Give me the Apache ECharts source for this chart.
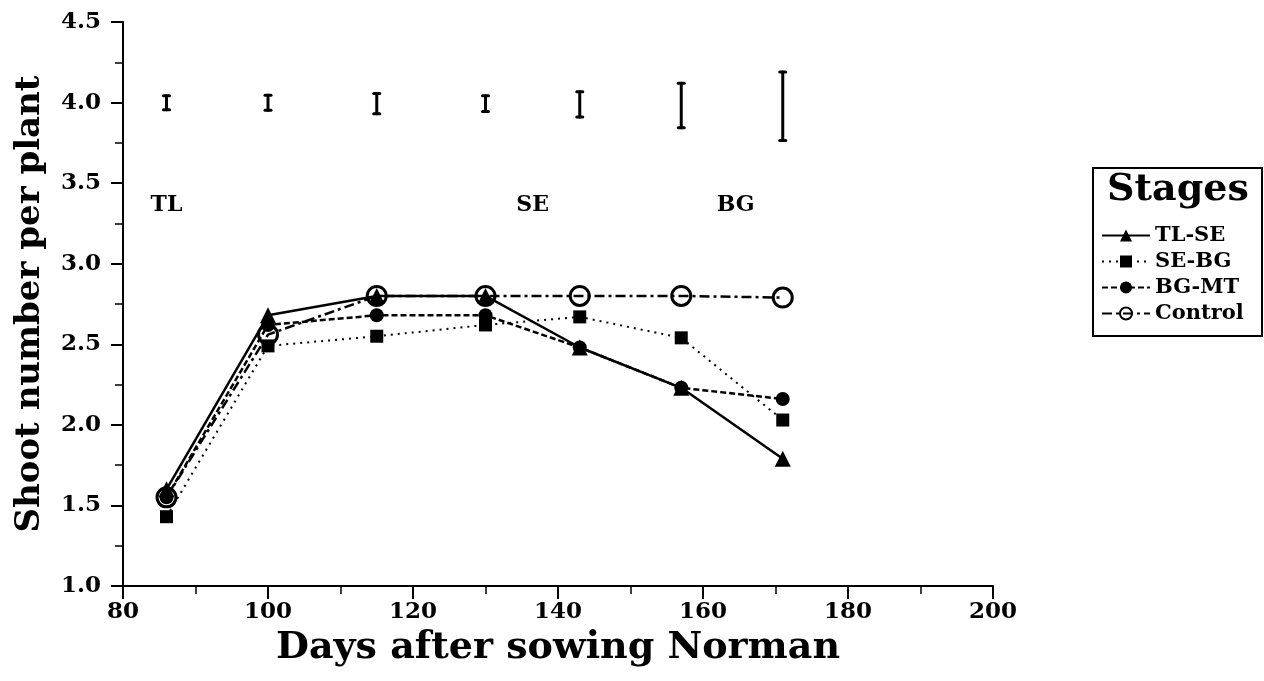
<!DOCTYPE html>
<html>
<head>
<meta charset="utf-8">
<script src="https://cdn.jsdelivr.net/npm/echarts@6/dist/echarts.min.js"></script>
<style>
html,body{margin:0;padding:0;background:#fff;}
#chart{width:1264px;height:681px;}
</style>
</head>
<body>
<div id="chart"></div>
<script>
// ---- data ----
const days = [86, 100, 115, 130, 143, 157, 171];
const tlSe = [1.60, 2.68, 2.80, 2.80, 2.48, 2.23, 1.79];
const seBg = [1.43, 2.49, 2.55, 2.62, 2.67, 2.54, 2.03];
const bgMt = [1.55, 2.62, 2.68, 2.68, 2.48, 2.23, 2.16];
const control = [1.55, 2.56, 2.80, 2.80, 2.80, 2.80, 2.79];
const errLow  = [3.955, 3.952, 3.931, 3.944, 3.910, 3.844, 3.765];
const errHigh = [4.042, 4.046, 4.056, 4.042, 4.067, 4.120, 4.190];
const stageLabels = ['TL', 'SE', 'BG'];
const stageDays = [86, 136.5, 164.5];
const stageLevel = [3.36, 3.36, 3.36];
const seriesNames = ['TL-SE', 'SE-BG', 'BG-MT', 'Control'];
const xTitle = 'Days after sowing Norman';
const yTitle = 'Shoot number per plant';
const legendTitle = 'Stages';

const FONT = '"DejaVu Serif", serif';
const pair = (arr) => days.map((d, i) => [d, arr[i]]);

const chart = echarts.init(document.getElementById('chart'), null, {renderer: 'canvas'});

const option = {
  backgroundColor: '#ffffff',
  animation: false,
  grid: {left: 123, right: 271, top: 22, bottom: 95, containLabel: false, outerBoundsMode: 'none'},
  xAxis: {
    type: 'value', min: 80, max: 200, interval: 20,
    name: xTitle, nameLocation: 'middle', nameGap: 38,
    nameTextStyle: {fontFamily: FONT, fontWeight: 'bold', fontSize: 38, color: '#000'},
    axisLine: {show: true, onZero: false, lineStyle: {color: '#000', width: 2}},
    axisTick: {show: true, length: 13, lineStyle: {color: '#000', width: 2}},
    minorTick: {show: true, splitNumber: 2, length: 8, lineStyle: {color: '#000', width: 1.5}},
    axisLabel: {fontFamily: FONT, fontWeight: 'bold', fontSize: 23, color: '#000', margin: 15},
    splitLine: {show: false}
  },
  yAxis: {
    type: 'value', min: 1, max: 4.5, interval: 0.5,
    name: yTitle, nameLocation: 'middle', nameGap: 76, nameRotate: 90,
    nameTextStyle: {fontFamily: FONT, fontWeight: 'bold', fontSize: 34, color: '#000'},
    axisLine: {show: true, onZero: false, lineStyle: {color: '#000', width: 2}},
    axisTick: {show: true, length: 12, lineStyle: {color: '#000', width: 2}},
    minorTick: {show: true, splitNumber: 2, length: 8, lineStyle: {color: '#000', width: 1.5}},
    axisLabel: {fontFamily: FONT, fontWeight: 'bold', fontSize: 23, color: '#000', margin: 22,
      formatter: (v) => v.toFixed(1)},
    splitLine: {show: false}
  },
  legend: {
    data: seriesNames,
    orient: 'vertical', left: 1096, top: 220,
    itemWidth: 48, itemHeight: 15, itemGap: 5,
    textStyle: {fontFamily: FONT, fontWeight: 'bold', fontSize: 21, color: '#000'},
    inactiveColor: '#000'
  },
  graphic: [
    {type: 'rect', shape: {x: 1093, y: 168, width: 169, height: 168},
     style: {fill: 'none', stroke: '#000', lineWidth: 2}},
    {type: 'text', x: 1178, y: 190,
     style: {text: legendTitle, fontFamily: FONT, fontWeight: 'bold', fontSize: 38,
       fill: '#000', align: 'center', verticalAlign: 'middle'}}
  ],
  series: [
    {
      name: 'errbars', type: 'custom',
      data: days.map((d, i) => [d, errLow[i], errHigh[i]]),
      encode: {x: 0, y: [1, 2]},
      renderItem: function (params, api) {
        const x = api.value(0);
        const lo = api.coord([x, api.value(1)]);
        const hi = api.coord([x, api.value(2)]);
        const st = {stroke: '#000', lineWidth: 3, lineCap: 'round'};
        return {
          type: 'group',
          children: [
            {type: 'line', shape: {x1: lo[0], y1: lo[1], x2: hi[0], y2: hi[1]}, style: st},
            {type: 'line', shape: {x1: lo[0] - 3, y1: lo[1], x2: lo[0] + 3, y2: lo[1]}, style: st},
            {type: 'line', shape: {x1: hi[0] - 3, y1: hi[1], x2: hi[0] + 3, y2: hi[1]}, style: st}
          ]
        };
      },
      silent: true, z: 2
    },
    {
      name: 'stages', type: 'scatter',
      data: stageDays.map((d, i) => ({name: stageLabels[i], value: [d, stageLevel[i]]})),
      symbolSize: 0,
      label: {show: true, position: 'inside', formatter: '{b}',
        fontFamily: FONT, fontWeight: 'bold', fontSize: 22, color: '#000',
        textBorderWidth: 0, opacity: 1},
      itemStyle: {color: '#000', opacity: 1},
      silent: true, z: 2
    },
    {
      name: 'Control', type: 'line', data: pair(control),
      symbol: 'circle', symbolSize: 19,
      lineStyle: {color: '#000', width: 2.5, type: [10, 4, 3, 4]},
      itemStyle: {color: 'rgba(255,255,255,0)', borderColor: '#000', borderWidth: 3},
      z: 3
    },
    {
      name: 'TL-SE', type: 'line', data: pair(tlSe),
      symbol: 'triangle', symbolSize: 16,
      lineStyle: {color: '#000', width: 2.5, type: 'solid'},
      itemStyle: {color: '#000'},
      z: 4
    },
    {
      name: 'SE-BG', type: 'line', data: pair(seBg),
      symbol: 'rect', symbolSize: 13,
      lineStyle: {color: '#000', width: 2, type: [2, 5]},
      itemStyle: {color: '#000'},
      z: 4
    },
    {
      name: 'BG-MT', type: 'line', data: pair(bgMt),
      symbol: 'circle', symbolSize: 14,
      lineStyle: {color: '#000', width: 2.5, type: [6, 3]},
      itemStyle: {color: '#000'},
      z: 4
    }
  ]
};
chart.setOption(option);
</script>
</body>
</html>
